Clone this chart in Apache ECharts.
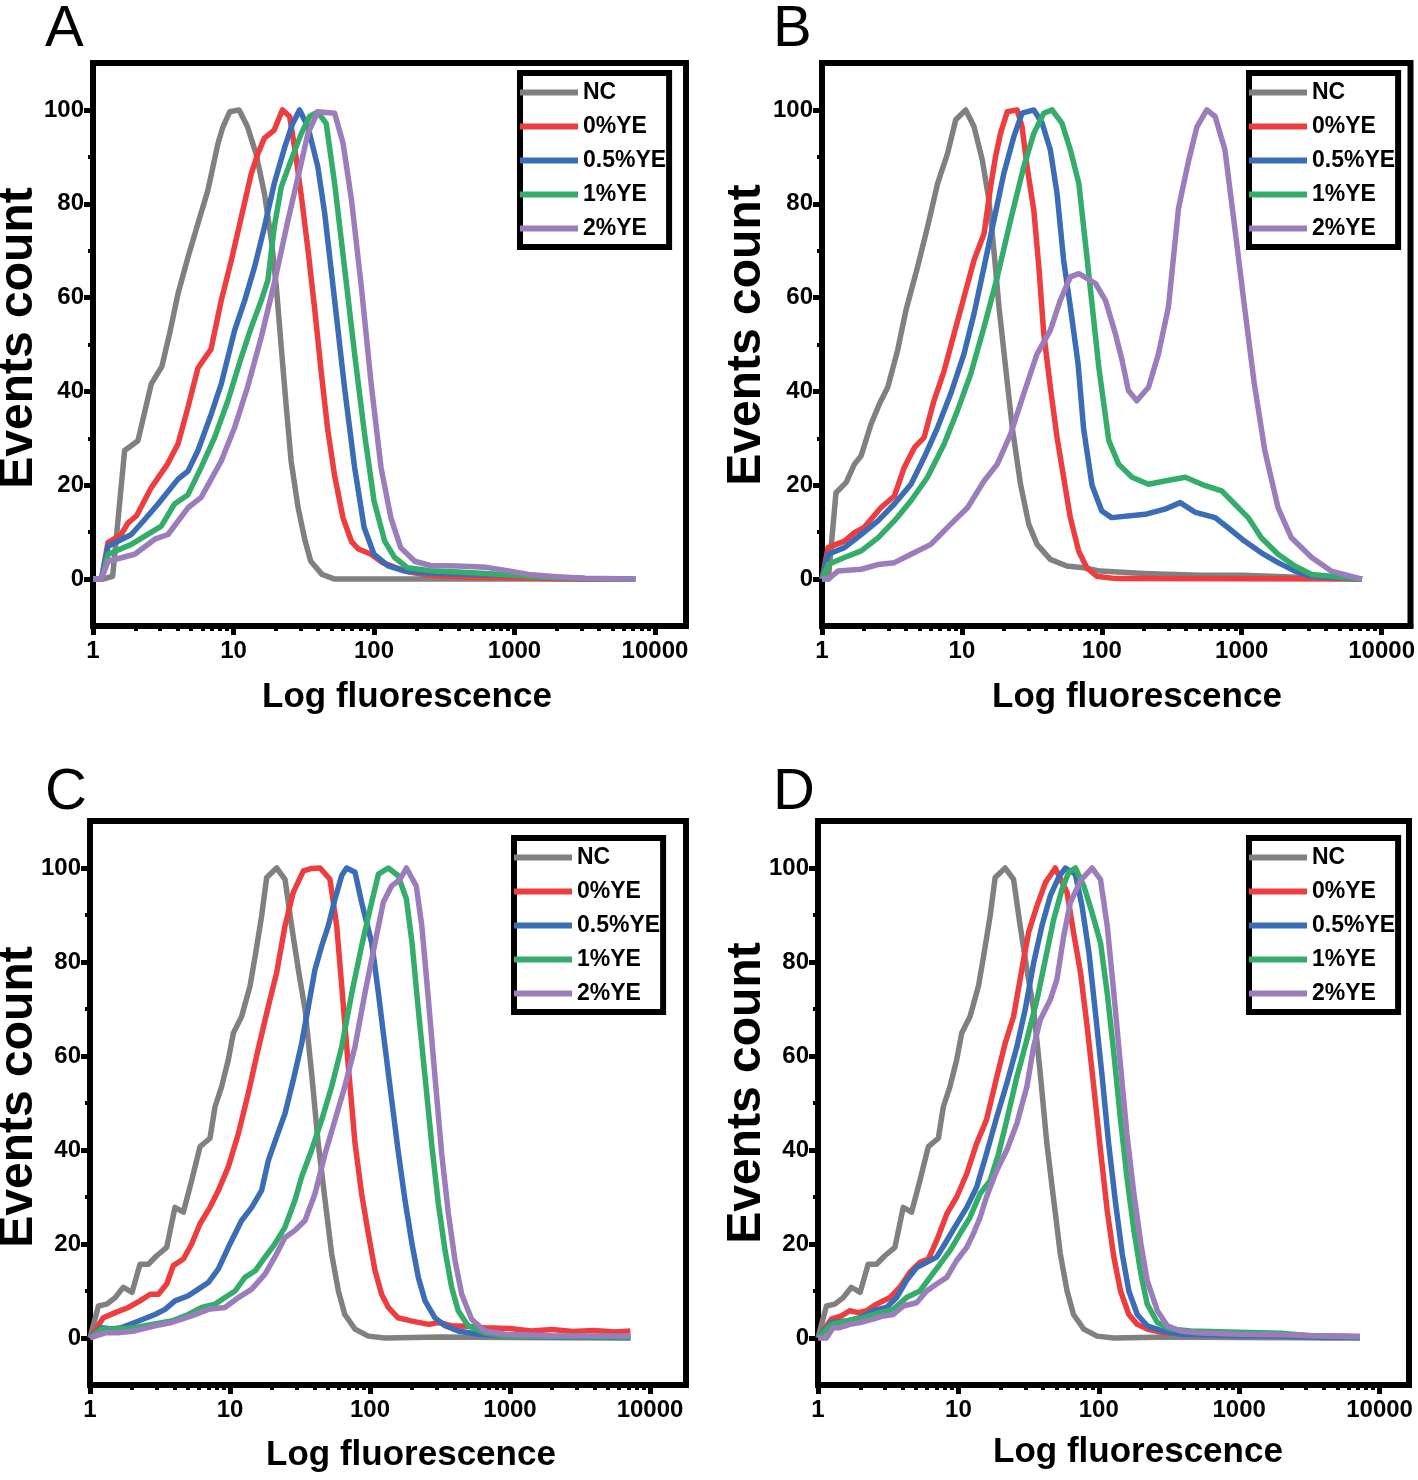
<!DOCTYPE html>
<html>
<head>
<meta charset="utf-8">
<title>Events count vs Log fluorescence</title>
<script src="https://cdn.jsdelivr.net/npm/echarts@6/dist/echarts.min.js"></script>
<style>
  html, body { margin: 0; padding: 0; background: #fff; }
  #chart { width: 1418px; height: 1480px; }
</style>
</head>
<body>
<div id="chart"></div>
<script>
// histogram readings: [log10 fluorescence, events count]
const aNC = [[0,0],[0.07,0],[0.14,0.6],[0.225,27.4],[0.32,29.5],[0.415,41.6],[0.49,45.3],[0.545,52.3],[0.605,60.8],[0.676,68.6],[0.747,75.8],[0.818,82.9],[0.89,92.9],[0.925,96.4],[0.973,99.6],[1.04,100],[1.10,96.4],[1.16,90.7],[1.22,82.2],[1.27,72.2],[1.305,62.3],[1.34,49.4],[1.376,36.6],[1.41,25.2],[1.46,15.2],[1.51,8.1],[1.55,3.8],[1.63,1],[1.72,0],[3.86,0]];
const a0 = [[0,0],[0.06,0],[0.107,7.8],[0.2,9.5],[0.25,12],[0.31,13.5],[0.415,19.5],[0.53,24.5],[0.605,28.8],[0.676,36.6],[0.747,45],[0.84,49],[0.913,59.4],[0.985,68],[1.056,77.2],[1.127,86.5],[1.174,90.7],[1.22,94],[1.29,95.7],[1.348,100],[1.40,98.6],[1.445,90],[1.49,80],[1.535,69],[1.58,57],[1.625,44],[1.67,32],[1.72,22],[1.78,13],[1.84,8],[1.89,6.4],[1.98,5.3],[2.06,3.5],[2.15,2.5],[2.25,1.5],[2.4,0.8],[2.7,0.4],[3.0,0.3],[3.4,0],[3.86,0]];
const a05 = [[0,0],[0.06,0],[0.107,7],[0.273,9.5],[0.368,12.7],[0.463,16],[0.605,21.3],[0.676,23],[0.747,27.4],[0.842,35.2],[0.913,41.6],[1.008,53],[1.08,59.4],[1.15,66.5],[1.22,75],[1.29,84.3],[1.364,92],[1.42,97],[1.47,100],[1.53,96.4],[1.60,87.9],[1.649,78],[1.72,59.4],[1.79,40.9],[1.862,23.8],[1.93,11],[2.0,5.3],[2.1,2.8],[2.22,1.7],[2.4,1.3],[2.7,1],[3.0,0.8],[3.2,0.5],[3.5,0.1],[3.86,0]];
const a1 = [[0,0],[0.06,0],[0.107,5.3],[0.273,7.4],[0.486,11.3],[0.58,16],[0.676,18],[0.77,23.8],[0.866,30.2],[0.96,38],[1.056,47.3],[1.127,53.7],[1.198,59.4],[1.245,63.7],[1.29,75],[1.34,83.6],[1.41,89.3],[1.483,95],[1.542,98.6],[1.60,99.6],[1.66,97.1],[1.72,84.3],[1.79,66.5],[1.862,48],[1.933,30.9],[2.0,16.7],[2.076,8.1],[2.147,4.6],[2.24,2.4],[2.4,1.8],[2.6,1.5],[2.8,1.2],[3.0,0.8],[3.2,0.4],[3.5,0.1],[3.86,0]];
const a2 = [[0,0],[0.06,0],[0.107,3.8],[0.297,5.3],[0.44,8.5],[0.534,9.5],[0.676,15.2],[0.77,17.4],[0.913,25.2],[1.008,32.3],[1.1,40.9],[1.198,51.6],[1.29,63],[1.388,76.5],[1.46,85.8],[1.53,95],[1.60,99.6],[1.72,99.3],[1.78,92.9],[1.84,80.8],[1.91,62.3],[1.98,41.6],[2.05,23.8],[2.12,13.1],[2.19,6.7],[2.29,3.8],[2.4,2.9],[2.6,2.8],[2.8,2.5],[2.95,1.8],[3.1,1],[3.3,0.5],[3.5,0.2],[3.86,0]];

const bNC = [[0,0],[0.045,0],[0.10,18.4],[0.173,20.6],[0.232,24.5],[0.28,26.3],[0.35,33],[0.41,37.3],[0.47,40.9],[0.54,48.7],[0.60,57.3],[0.683,66.5],[0.754,75],[0.826,84.3],[0.897,90.7],[0.956,97.9],[1.027,100],[1.087,96.4],[1.146,89.3],[1.193,80.8],[1.229,70],[1.265,58],[1.312,45.2],[1.36,32.3],[1.419,20.2],[1.478,11.7],[1.537,7.4],[1.632,4.2],[1.75,2.8],[1.87,2.4],[1.99,1.7],[2.3,1.2],[2.7,0.8],[3.0,0.8],[3.2,0.6],[3.5,0.3],[3.86,0]];
const b0 = [[0,0],[0.043,6.7],[0.16,8.1],[0.232,9.9],[0.30,11],[0.42,15.2],[0.517,17.7],[0.588,23.8],[0.66,28],[0.73,30.2],[0.80,38],[0.873,44.4],[0.944,52.3],[1.015,60.1],[1.087,68],[1.158,73.6],[1.205,83.6],[1.24,90],[1.276,95],[1.324,99.6],[1.395,100],[1.43,96.4],[1.466,87.9],[1.514,78.6],[1.55,66.5],[1.585,52.3],[1.632,40.9],[1.68,30.2],[1.727,21.7],[1.775,13.1],[1.834,6],[1.893,2.4],[1.964,0.6],[2.1,0.1],[3.86,0]];
const b05 = [[0,0],[0.043,5.3],[0.16,6.7],[0.28,9.5],[0.40,12.4],[0.517,16],[0.636,20.2],[0.73,25.9],[0.826,32.3],[0.92,39.5],[1.015,48],[1.087,56.6],[1.158,66.5],[1.229,76.5],[1.30,86.5],[1.371,94.3],[1.43,99.3],[1.514,100],[1.573,97.2],[1.632,91.5],[1.68,82.2],[1.727,68],[1.775,58],[1.83,46],[1.87,32],[1.93,20],[2.0,14.5],[2.07,13.1],[2.31,13.8],[2.45,14.9],[2.56,16.3],[2.67,14.2],[2.81,13.1],[2.93,10.3],[3.02,8.1],[3.14,5.6],[3.26,3.5],[3.38,1.7],[3.50,0.6],[3.86,0]];
const b1 = [[0,0],[0.043,3.1],[0.16,4.6],[0.28,6],[0.40,8.8],[0.517,12.4],[0.636,16.7],[0.754,21.7],[0.873,28.8],[0.968,35.9],[1.063,43.7],[1.158,53.7],[1.253,64.4],[1.348,76.5],[1.442,87.9],[1.514,95],[1.585,99.3],[1.644,100],[1.715,97.2],[1.775,91.5],[1.836,84.3],[1.907,65],[1.979,45],[2.05,29.5],[2.12,24.5],[2.216,21.7],[2.334,20.2],[2.45,20.9],[2.597,21.7],[2.74,19.9],[2.857,18.8],[2.95,16],[3.046,13.1],[3.14,8.8],[3.26,5.3],[3.38,2.8],[3.50,1],[3.86,0]];
const b2 = [[0,0],[0.045,0],[0.114,1.7],[0.28,2.1],[0.40,3.1],[0.517,3.5],[0.636,5.3],[0.778,7.4],[0.92,11.7],[1.04,15.2],[1.158,20.9],[1.253,24.5],[1.348,30.9],[1.442,39.5],[1.537,48],[1.632,53],[1.703,59.4],[1.775,64.4],[1.836,65.1],[1.955,63],[2.026,59.4],[2.097,52.3],[2.145,46.6],[2.19,40.2],[2.25,38],[2.334,40.9],[2.405,48],[2.476,58],[2.548,79],[2.619,89],[2.68,96.4],[2.75,100],[2.81,98.6],[2.88,91.5],[2.95,75],[3.02,58],[3.09,41.6],[3.165,27.4],[3.26,15.2],[3.355,8.8],[3.5,4.6],[3.64,1.7],[3.86,0]];

// the NC control is the same recording in panels C and D
const cdNC = [[0,0],[0.012,0],[0.06,6.8],[0.12,7.2],[0.18,8.6],[0.238,10.8],[0.30,9.7],[0.357,15.7],[0.417,15.7],[0.476,17.5],[0.548,19.3],[0.607,27.8],[0.667,26.8],[0.726,33.5],[0.786,40.7],[0.857,42.5],[0.893,49.2],[0.94,53.5],[0.988,59.2],[1.024,64.9],[1.083,68.4],[1.143,74.9],[1.18,81.3],[1.226,89.8],[1.262,98],[1.333,100],[1.393,97.6],[1.44,87.7],[1.488,78.4],[1.536,69.9],[1.583,56.3],[1.63,41.4],[1.679,29.3],[1.726,17.9],[1.774,10],[1.82,5],[1.893,1.9],[1.988,0.4],[2.107,0],[2.5,0.2],[3.0,0.1],[3.86,0]];
const c0 = [[0,0],[0.012,0],[0.095,4.3],[0.18,5.4],[0.274,6.5],[0.357,7.9],[0.43,9.3],[0.488,9.3],[0.548,11.5],[0.595,15.4],[0.667,16.8],[0.726,20],[0.786,24.3],[0.857,27.8],[0.917,31.4],[0.988,36.4],[1.06,43.5],[1.13,52],[1.2,61.3],[1.274,70.6],[1.333,77.7],[1.393,87.7],[1.452,94.8],[1.524,99.4],[1.583,99.9],[1.643,100],[1.714,97.6],[1.762,87.7],[1.798,74.9],[1.845,57.8],[1.893,41.4],[1.94,30.7],[1.988,22.2],[2.036,14.3],[2.083,9.3],[2.131,6.5],[2.2,4.3],[2.3,3.6],[2.42,2.9],[2.49,3.3],[2.58,2.6],[2.7,2.5],[2.82,2.2],[3.0,2],[3.15,1.5],[3.3,1.8],[3.45,1.4],[3.6,1.6],[3.75,1.3],[3.86,1.5]];
const c05 = [[0,0],[0.012,0],[0.083,2.2],[0.155,1.9],[0.226,2.2],[0.32,3.3],[0.464,5],[0.536,6.1],[0.607,7.9],[0.702,9],[0.774,10.4],[0.845,11.8],[0.917,14.7],[0.988,19.3],[1.083,25],[1.155,27.8],[1.226,31.4],[1.274,37.8],[1.333,42.8],[1.393,47.8],[1.452,54.9],[1.512,62.7],[1.56,70.6],[1.607,78.4],[1.655,83.4],[1.702,87.7],[1.75,93.4],[1.798,98.4],[1.833,100],[1.893,99.1],[1.94,92.7],[2.012,84.1],[2.06,73.4],[2.107,62],[2.155,50.6],[2.2,40],[2.25,29.3],[2.3,20],[2.345,12.9],[2.393,7.9],[2.464,4.3],[2.536,2.6],[2.63,1.5],[2.774,0.8],[2.964,0.4],[3.3,0.2],[3.86,0.1]];
const c1 = [[0,0],[0.012,0],[0.083,1.9],[0.2,1.9],[0.32,2.2],[0.44,2.9],[0.583,3.6],[0.702,5],[0.798,6.5],[0.893,7.2],[0.964,8.6],[1.036,10],[1.107,12.9],[1.18,14.3],[1.25,17.2],[1.32,20],[1.393,23.6],[1.464,29.3],[1.512,34.3],[1.583,40],[1.655,46.4],[1.726,53.5],[1.798,62],[1.87,73.4],[1.94,83.4],[2.0,91.2],[2.06,98.7],[2.13,100],[2.2,98.4],[2.26,93.4],[2.3,84.1],[2.345,69.9],[2.393,55.6],[2.44,41.4],[2.488,28.6],[2.536,18.6],[2.583,10.8],[2.63,5.8],[2.7,2.6],[2.82,1.1],[2.96,0.4],[3.3,0.3],[3.86,0.2]];
const c2 = [[0,0],[0.012,0],[0.107,1.1],[0.2,1.1],[0.32,1.5],[0.464,2.6],[0.583,3.3],[0.726,4.7],[0.845,6.1],[0.964,6.5],[1.06,8.6],[1.155,10.4],[1.25,13.6],[1.32,17.2],[1.393,21.4],[1.464,22.9],[1.536,25],[1.607,30.7],[1.679,39.2],[1.75,46.4],[1.82,53.5],[1.893,62],[1.964,73.4],[2.036,84.1],[2.095,92.7],[2.155,96.2],[2.214,97.6],[2.26,100],[2.33,96.2],[2.37,87.7],[2.417,72],[2.464,55.6],[2.512,39.2],[2.56,26.4],[2.607,16.5],[2.655,9.3],[2.726,4],[2.82,1.5],[2.964,0.8],[3.3,0.5],[3.86,0.4]];

const d0 = [[0,0],[0.012,0],[0.095,4],[0.167,4.7],[0.226,5.8],[0.286,5.4],[0.345,5.8],[0.417,7.2],[0.512,8.6],[0.583,10.8],[0.655,14],[0.726,16.1],[0.786,16.8],[0.845,20.7],[0.917,26.4],[0.988,30],[1.06,35],[1.13,41.4],[1.2,46.4],[1.274,55.6],[1.333,62.7],[1.393,68.4],[1.452,78.4],[1.5,86.3],[1.56,92],[1.62,96.9],[1.69,100],[1.774,94.8],[1.82,86.3],[1.87,77.7],[1.917,66.3],[1.964,53.5],[2.012,40],[2.06,27.1],[2.107,17.2],[2.155,10],[2.214,5],[2.274,2.9],[2.345,1.9],[2.464,1.1],[2.58,1.1],[3.0,1],[3.2,0.9],[3.5,0.5],[3.86,0.3]];
const d05 = [[0,0],[0.012,0],[0.095,3.3],[0.2,3.6],[0.3,4.3],[0.393,5.8],[0.488,6.5],[0.56,8.6],[0.63,12.2],[0.702,15],[0.774,16.1],[0.845,17.2],[0.917,20.7],[0.988,24.3],[1.06,27.8],[1.13,32.1],[1.2,39.2],[1.274,47.1],[1.345,54.2],[1.417,62],[1.476,69.9],[1.536,79.8],[1.595,87.7],[1.655,94.1],[1.714,98],[1.762,100],[1.833,98.7],[1.88,92],[1.93,82],[1.976,69.2],[2.024,55.6],[2.07,41.4],[2.12,28.6],[2.167,17.9],[2.214,10],[2.274,5],[2.345,2.6],[2.464,1.4],[2.583,0.8],[3.0,0.5],[3.3,0.4],[3.6,0.1],[3.86,0.1]];
const d1 = [[0,0],[0.012,0],[0.095,2.9],[0.2,3.6],[0.32,4.3],[0.44,5.4],[0.536,6.1],[0.63,8.6],[0.726,10],[0.798,12.9],[0.869,15.7],[0.94,18.6],[1.012,22.2],[1.083,25.7],[1.155,30.7],[1.226,33.5],[1.286,39.2],[1.345,46.4],[1.417,55.6],[1.488,63.5],[1.56,72],[1.62,80.6],[1.679,89.1],[1.738,95.5],[1.786,99.1],[1.833,100],[1.893,96.2],[1.952,90.5],[2.012,84.1],[2.06,73.4],[2.107,60.6],[2.155,46.4],[2.2,34.3],[2.25,22.9],[2.3,13.6],[2.345,7.2],[2.417,3.3],[2.512,1.9],[2.655,1.5],[3.0,1.2],[3.3,1],[3.5,0.5],[3.86,0.2]];
const d2 = [[0,0],[0.06,0],[0.107,2.2],[0.155,2.2],[0.226,2.9],[0.3,3.3],[0.393,4],[0.464,4.7],[0.536,5],[0.607,6.8],[0.702,7.5],[0.774,10],[0.845,11.5],[0.917,12.9],[0.988,16.5],[1.06,19.3],[1.107,22.2],[1.155,25.7],[1.2,30],[1.274,35.7],[1.345,40],[1.417,45.7],[1.488,53.5],[1.536,62],[1.583,67.7],[1.655,72],[1.702,76.3],[1.75,85.5],[1.798,92.7],[1.87,97.3],[1.952,100],[2.012,97.6],[2.06,87.7],[2.107,73.4],[2.155,57.8],[2.2,43.5],[2.25,30.7],[2.3,20],[2.345,12.2],[2.417,5.8],[2.488,2.6],[2.583,1.5],[2.7,1.1],[3.0,0.8],[3.3,0.7],[3.6,0.4],[3.86,0.3]];

const seriesNames = ['NC', '0%YE', '0.5%YE', '1%YE', '2%YE'];
const lineColors = ['#808080', '#ee3d3f', '#3b6cb6', '#33ad69', '#9c7dbb'];
const xMajorTicks = [1, 10, 100, 1000, 10000];
const xMinorTicks = [2, 3, 4, 5, 6, 7, 8, 9, 20, 30, 40, 50, 60, 70, 80, 90,
  200, 300, 400, 500, 600, 700, 800, 900, 2000, 3000, 4000, 5000, 6000, 7000, 8000, 9000];
const yMajorTicks = [0, 20, 40, 60, 80, 100];
const yMinorTicks = [10, 30, 50, 70, 90];

const panelData = [
  [aNC, a0, a05, a1, a2],
  [bNC, b0, b05, b1, b2],
  [cdNC, c0, c05, c1, c2],
  [cdNC, d0, d05, d1, d2]
];

// page layout of the four panels
const panels = [
  { letter: 'A', grid: { left: 93, top: 63, width: 593, height: 563 }, xMax: 16630,
    legend: { left: 520, top: 73 }, letterPos: [45, 30], xTitle: [407, 697], yTitle: [19, 338] },
  { letter: 'B', grid: { left: 822, top: 63, width: 591, height: 563 }, xMax: 16080,
    legend: { left: 1249, top: 73 }, letterPos: [773, 30], xTitle: [1137, 697], yTitle: [747, 335] },
  { letter: 'C', grid: { left: 90, top: 821, width: 596, height: 564 }, xMax: 18070,
    legend: { left: 514, top: 838 }, letterPos: [45, 793], xTitle: [411, 1455], yTitle: [19, 1097] },
  { letter: 'D', grid: { left: 818, top: 821, width: 591, height: 564 }, xMax: 16200,
    legend: { left: 1249, top: 838 }, letterPos: [773, 793], xTitle: [1138, 1452], yTitle: [747, 1093] }
];

const FONT = '"Liberation Sans", Arial, sans-serif';
const tickLabel = { fontFamily: FONT, fontWeight: 'bold', fontSize: 24, color: '#000' };

const grids = [], xAxes = [], yAxes = [], legends = [], series = [], graphics = [];

panels.forEach((p, i) => {
  grids.push(Object.assign({ show: true, borderColor: '#000', borderWidth: 6, backgroundColor: '#fff' }, p.grid));

  // major x axis
  xAxes.push({
    type: 'log', gridIndex: i, min: 1, max: p.xMax, position: 'bottom',
    axisLine: { onZero: false, lineStyle: { color: '#000', width: 6 } },
    axisTick: { customValues: xMajorTicks, length: 9, lineStyle: { color: '#000', width: 5 } },
    axisLabel: Object.assign({ customValues: xMajorTicks, margin: 13, formatter: v => String(Math.round(v)) }, tickLabel),
    splitLine: { show: false }, minorTick: { show: false }
  });
  // minor x ticks (2..9 of each decade)
  xAxes.push({
    type: 'log', gridIndex: i, min: 1, max: p.xMax, position: 'bottom',
    axisLine: { show: false, onZero: false },
    axisTick: { customValues: xMinorTicks, length: 5, lineStyle: { color: '#000', width: 4 } },
    axisLabel: { show: false }, splitLine: { show: false }
  });
  yAxes.push({
    type: 'value', gridIndex: i, min: -10, max: 110, position: 'left',
    axisLine: { onZero: false, lineStyle: { color: '#000', width: 6 } },
    axisTick: { customValues: yMajorTicks, length: 9, lineStyle: { color: '#000', width: 5 } },
    axisLabel: Object.assign({ customValues: yMajorTicks, margin: 9 }, tickLabel),
    splitLine: { show: false }
  });
  yAxes.push({
    type: 'value', gridIndex: i, min: -10, max: 110, position: 'left',
    axisLine: { show: false, onZero: false },
    axisTick: { customValues: yMinorTicks, length: 5, lineStyle: { color: '#000', width: 4 } },
    axisLabel: { show: false }, splitLine: { show: false }
  });

  legends.push({
    left: p.legend.left, top: p.legend.top, orient: 'vertical',
    icon: 'rect', itemWidth: 58, itemHeight: 6, itemGap: 11,
    padding: [8, 3, 7, 0],
    borderColor: '#000', borderWidth: 6, backgroundColor: '#fff',
    itemStyle: { borderWidth: 0 },
    textStyle: { fontFamily: FONT, fontWeight: 'bold', fontSize: 23, lineHeight: 23, color: '#000' },
    selectedMode: false,
    data: seriesNames
  });

  panelData[i].forEach((pairs, k) => {
    series.push({
      name: seriesNames[k], type: 'line',
      xAxisIndex: i * 2, yAxisIndex: i * 2,
      data: pairs.map(d => [Math.pow(10, d[0]), d[1]]),
      showSymbol: false, symbol: 'none',
      lineStyle: { color: lineColors[k], width: 5.5, join: 'round' },
      itemStyle: { color: lineColors[k] },
      z: 3 + k
    });
  });

  graphics.push({
    type: 'text', x: p.letterPos[0], y: p.letterPos[1],
    style: { text: p.letter, font: '58px ' + FONT, fill: '#000', align: 'left', verticalAlign: 'middle', textAlign: 'left', textVerticalAlign: 'middle' }
  });
  graphics.push({
    type: 'text', x: p.xTitle[0], y: p.xTitle[1],
    style: { text: 'Log fluorescence', font: 'bold 35px ' + FONT, fill: '#000', align: 'center', verticalAlign: 'middle', textAlign: 'center', textVerticalAlign: 'middle' }
  });
  graphics.push({
    type: 'text', x: p.yTitle[0], y: p.yTitle[1], rotation: Math.PI / 2,
    style: { text: 'Events count', font: 'bold 48px ' + FONT, fill: '#000', align: 'center', verticalAlign: 'middle', textAlign: 'center', textVerticalAlign: 'middle' }
  });
});

const chart = echarts.init(document.getElementById('chart'));
chart.setOption({
  backgroundColor: '#fff',
  animation: false,
  grid: grids,
  xAxis: xAxes,
  yAxis: yAxes,
  legend: legends,
  series: series,
  graphic: graphics
});
</script>
</body>
</html>
